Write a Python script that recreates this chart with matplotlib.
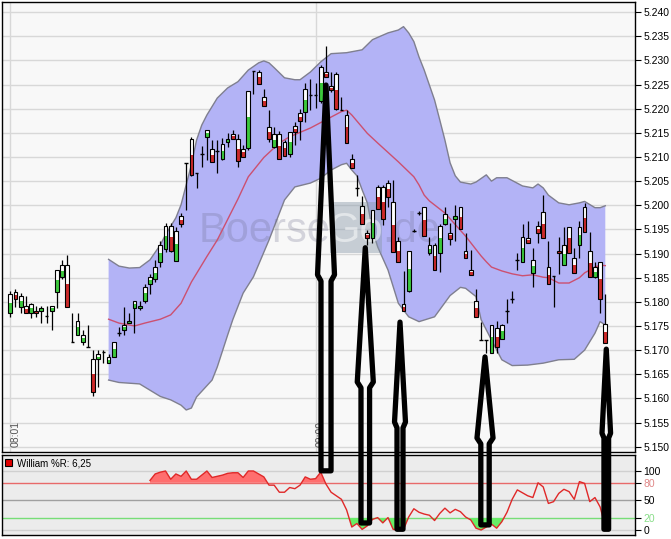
import numpy as np
import matplotlib
matplotlib.use("Agg")
import matplotlib.pyplot as plt
from matplotlib.patches import Rectangle, Polygon

plt.rcParams['font.family'] = ['Liberation Sans', 'DejaVu Sans']

# ---------------- data (1-minute candles starting 08:01) ----------------
opens = [5.1776, 5.1821, 5.1790, 5.1792, 5.1776, 5.1781, 5.1781, 5.1771, 5.1781, 5.1821,
         5.1851, 5.1876, 5.1716, 5.1731, 5.1716, 5.1706, 5.1681, 5.1681, 5.1696, 5.1674,
         5.1685, 5.1735, 5.1742, 5.1756, 5.1787, 5.1787, 5.1802, 5.1836, 5.1847, 5.1882,
         5.1909, 5.1957, 5.1885, 5.1977, 5.2087, 5.2138, 5.2066, 5.2106, 5.2141, 5.2117,
         5.2113, 5.2095, 5.2131, 5.2147, 5.2137, 5.2117, 5.2118, 5.2279, 5.2276, 5.2225,
         5.2162, 5.2120, 5.2147, 5.2131, 5.2106, 5.2165, 5.2191, 5.2193, 5.2229, 5.2229,
         5.2215, 5.2276, 5.2247, 5.2272, 5.2197, 5.2187, 5.2095, 5.2035, 5.1999, 5.1942,
         5.1932, 5.2037, 5.2037, 5.2047, 5.2006, 5.1925, 5.1795, 5.1823, 5.1947, 5.1984,
         5.1996, 5.1901, 5.1917, 5.1901, 5.1961, 5.1943, 5.1972, 5.1997, 5.1906, 5.1866,
         5.1802, 5.1720, 5.1720, 5.1695, 5.1745, 5.1724, 5.1781, 5.1805, 5.1886, 5.1883,
         5.1932, 5.1860, 5.1957, 5.1986, 5.1872, 5.1854, 5.1906, 5.1876, 5.1956, 5.1890,
         5.1917, 5.1996, 5.1906, 5.1851, 5.1882, 5.1755]
highs = [5.1823, 5.1826, 5.1818, 5.1812, 5.1798, 5.1792, 5.1792, 5.1792, 5.1792, 5.1866,
         5.1887, 5.1897, 5.1776, 5.1776, 5.1742, 5.1752, 5.1700, 5.1700, 5.1700, 5.1691,
         5.1716, 5.1747, 5.1790, 5.1776, 5.1802, 5.1802, 5.1836, 5.1857, 5.1887, 5.1925,
         5.1963, 5.1963, 5.1956, 5.1984, 5.2087, 5.2141, 5.2066, 5.2122, 5.2156, 5.2135,
         5.2135, 5.2139, 5.2149, 5.2155, 5.2148, 5.2125, 5.2236, 5.2279, 5.2280, 5.2240,
         5.2197, 5.2162, 5.2153, 5.2135, 5.2151, 5.2173, 5.2199, 5.2253, 5.2261, 5.2253,
         5.2291, 5.2329, 5.2277, 5.2276, 5.2225, 5.2197, 5.2106, 5.2063, 5.2019, 5.1949,
         5.1990, 5.2042, 5.2042, 5.2053, 5.2053, 5.1935, 5.1863, 5.1906, 5.1950, 5.1988,
         5.1996, 5.1935, 5.1922, 5.1962, 5.1997, 5.1964, 5.2001, 5.1997, 5.1942, 5.1907,
         5.1826, 5.1759, 5.1720, 5.1752, 5.1760, 5.1754, 5.1805, 5.1823, 5.1902, 5.1962,
         5.1968, 5.1911, 5.1968, 5.2022, 5.1925, 5.1854, 5.1935, 5.1956, 5.1956, 5.1911,
         5.1968, 5.2004, 5.1945, 5.1883, 5.1882, 5.1816]
lows = [5.1769, 5.1789, 5.1776, 5.1776, 5.1766, 5.1769, 5.1756, 5.1756, 5.1742, 5.1787,
        5.1847, 5.1790, 5.1716, 5.1731, 5.1711, 5.1706, 5.1604, 5.1624, 5.1674, 5.1674,
        5.1685, 5.1730, 5.1731, 5.1756, 5.1735, 5.1783, 5.1797, 5.1816, 5.1842, 5.1873,
        5.1904, 5.1904, 5.1885, 5.1956, 5.1990, 5.2061, 5.2035, 5.2080, 5.2094, 5.2090,
        5.2066, 5.2094, 5.2120, 5.2137, 5.2080, 5.2101, 5.2115, 5.2230, 5.2251, 5.2206,
        5.2132, 5.2118, 5.2095, 5.2102, 5.2101, 5.2125, 5.2135, 5.2173, 5.2197, 5.2201,
        5.2212, 5.2265, 5.2235, 5.2197, 5.2197, 5.2130, 5.2077, 5.2020, 5.1962, 5.1918,
        5.1921, 5.1992, 5.1959, 5.1997, 5.1904, 5.1883, 5.1782, 5.1821, 5.1944, 5.1980,
        5.1936, 5.1897, 5.1866, 5.1862, 5.1959, 5.1918, 5.1925, 5.1950, 5.1890, 5.1855,
        5.1769, 5.1720, 5.1695, 5.1695, 5.1695, 5.1724, 5.1756, 5.1797, 5.1865, 5.1883,
        5.1921, 5.1831, 5.1921, 5.1932, 5.1836, 5.1790, 5.1858, 5.1876, 5.1901, 5.1860,
        5.1890, 5.1945, 5.1851, 5.1849, 5.1776, 5.1714]
closes = [5.1816, 5.1805, 5.1812, 5.1776, 5.1795, 5.1776, 5.1787, 5.1771, 5.1792, 5.1866,
          5.1876, 5.1790, 5.1716, 5.1760, 5.1731, 5.1706, 5.1614, 5.1691, 5.1696, 5.1685,
          5.1716, 5.1735, 5.1752, 5.1760, 5.1802, 5.1792, 5.1831, 5.1851, 5.1872, 5.1918,
          5.1957, 5.1906, 5.1947, 5.1961, 5.2087, 5.2063, 5.2066, 5.2106, 5.2156, 5.2090,
          5.2113, 5.2127, 5.2137, 5.2137, 5.2092, 5.2101, 5.2236, 5.2279, 5.2251, 5.2206,
          5.2137, 5.2147, 5.2095, 5.2102, 5.2151, 5.2151, 5.2175, 5.2240, 5.2229, 5.2229,
          5.2286, 5.2265, 5.2239, 5.2199, 5.2197, 5.2130, 5.2077, 5.2035, 5.1962, 5.1932,
          5.1990, 5.1992, 5.1971, 5.2017, 5.1904, 5.1883, 5.1782, 5.1906, 5.1947, 5.1984,
          5.1936, 5.1917, 5.1866, 5.1957, 5.1982, 5.1931, 5.1978, 5.1950, 5.1890, 5.1855,
          5.1769, 5.1720, 5.1720, 5.1752, 5.1706, 5.1752, 5.1781, 5.1805, 5.1886, 5.1934,
          5.1921, 5.1887, 5.1943, 5.1932, 5.1836, 5.1854, 5.1901, 5.1917, 5.1901, 5.1860,
          5.1956, 5.1945, 5.1851, 5.1872, 5.1806, 5.1714]

# Bollinger band
upper_idx = [19, 21, 23, 25, 27, 29, 30, 32, 33, 35, 36, 37, 38, 40, 42, 44, 46, 48, 49, 50,
             51, 53, 55, 56, 58, 60, 62, 65, 68, 70, 73, 75, 76, 77, 78, 79, 80, 81, 82, 83,
             84, 85, 86, 87, 89, 90, 92, 93, 94, 96, 99, 101, 102, 103, 104, 106, 108, 110,
             111, 113, 114, 115]
upper_val = [5.1888, 5.1874, 5.1870, 5.1871, 5.1887, 5.1918, 5.1939, 5.1974, 5.2001, 5.2084,
             5.2135, 5.2166, 5.2187, 5.2222, 5.2243, 5.2256, 5.2280, 5.2295, 5.2299, 5.2295,
             5.2285, 5.2264, 5.2260, 5.2260, 5.2276, 5.2297, 5.2314, 5.2316, 5.2322, 5.2343,
             5.2357, 5.2363, 5.2370, 5.2357, 5.2339, 5.2307, 5.2280, 5.2249, 5.2218, 5.2177,
             5.2135, 5.2088, 5.2061, 5.2048, 5.2044, 5.2048, 5.2063, 5.2050, 5.2057, 5.2057,
             5.2040, 5.2036, 5.2044, 5.2036, 5.2021, 5.2005, 5.2001, 5.2005, 5.2008, 5.1995,
             5.1995, 5.1999]
lower_idx = [19, 21, 25, 29, 31, 33, 34, 35, 36, 39, 40, 42, 43, 45, 47, 50, 53, 55, 58, 60,
             62, 64, 65, 66, 67, 68, 69, 70, 71, 73, 75, 77, 79, 82, 85, 87, 88, 90, 91, 93,
             95, 97, 100, 103, 106, 109, 111, 113, 114, 115]
lower_val = [5.1638, 5.1633, 5.1630, 5.1604, 5.1597, 5.1586, 5.1576, 5.1580, 5.1603, 5.1638,
             5.1665, 5.1731, 5.1763, 5.1818, 5.1852, 5.1928, 5.2011, 5.2038, 5.2046, 5.2056,
             5.2073, 5.2084, 5.2087, 5.2073, 5.2061, 5.2032, 5.2005, 5.1949, 5.1914, 5.1866,
             5.1797, 5.1769, 5.1759, 5.1769, 5.1813, 5.1830, 5.1828, 5.1811, 5.1763, 5.1721,
             5.1680, 5.1668, 5.1669, 5.1673, 5.1680, 5.1681, 5.1700, 5.1735, 5.1759, 5.1752]
mid_idx = [19, 21, 24, 26, 29, 31, 33, 35, 38, 40, 44, 46, 49, 52, 54, 58, 61, 64, 65, 66,
           69, 71, 75, 78, 79, 80, 81, 84, 88, 91, 92, 93, 95, 97, 99, 101, 103, 104, 106,
           108, 110, 111, 113, 114, 115]
mid_val = [5.1764, 5.1756, 5.1750, 5.1756, 5.1764, 5.1773, 5.1797, 5.1841, 5.1894, 5.1928,
           5.2013, 5.2059, 5.2099, 5.2129, 5.2142, 5.2160, 5.2177, 5.2194, 5.2197, 5.2187,
           5.2149, 5.2129, 5.2090, 5.2059, 5.2042, 5.2021, 5.2009, 5.1984, 5.1936, 5.1895,
           5.1883, 5.1872, 5.1864, 5.1858, 5.1854, 5.1856, 5.1851, 5.1850, 5.1839, 5.1839,
           5.1850, 5.1860, 5.1872, 5.1876, 5.1875]

# Williams %R (candles 27..115)
wr_start = 27
wr_vals = [84, 95, 98, 100, 86, 95, 91, 100, 86, 86,
           93, 100, 89, 91, 93, 96, 97, 97, 89, 100,
           100, 95, 90, 76, 76, 64, 64, 72, 70, 76,
           90, 86, 87, 98, 78, 64, 58, 52, 34, 5,
           11, 1, 7, 18, 21, 12, 21, 1, 0, 1,
           22, 36, 30, 27, 25, 16, 28, 37, 29, 35,
           31, 22, 17, 3, 0, 5, 10, 3, 14, 30,
           52, 68, 63, 58, 55, 80, 73, 45, 48, 62,
           69, 65, 52, 82, 79, 48, 55, 39, 6.25]
wr_levels = [0, 20, 50, 80, 100]
price_ticks = [5.150, 5.155, 5.160, 5.165, 5.170, 5.175, 5.180, 5.185, 5.190, 5.195,
               5.200, 5.205, 5.210, 5.215, 5.220, 5.225, 5.230, 5.235, 5.240]
time_labels = ["08:01", "09:00"]
time_pos = [0, 59]

# hand-drawn arrows: centre, tip, barb, neck, bottom, barb half-width, shaft half-width
arrows = [
    (61.02, 5.2249, 5.1856, 5.1843, 5.1450, 1.64, 0.97),
    (68.61, 5.1912, 5.1634, 5.1622, 5.1342, 1.55, 0.83),
    (75.32, 5.1758, 5.1551, 5.1539, 5.1329, 1.06, 0.58),
    (91.75, 5.1686, 5.1518, 5.1506, 5.1338, 1.55, 0.81),
    (115.19, 5.1702, 5.1528, 5.1518, 5.1329, 0.83, 0.45),
]

# ---------------- figure ----------------
W, H = 671, 539
fig = plt.figure(figsize=(W / 100, H / 100), dpi=100)
fig.patch.set_facecolor('white')
ax = fig.add_axes([2 / W, 1 - 452 / H, 633 / W, 450 / H])
axl = fig.add_axes([2 / W, 1 - 535 / H, 633 / W, 80 / H])

XL = (-1.604, 120.74)
ax.set_xlim(*XL)
ax.set_ylim(5.1489, 5.2421)
ax.set_facecolor('#f8f8f8')
for s in ax.spines.values():
    s.set_color('black'); s.set_linewidth(1)
ax.set_xticks([])
ax.yaxis.tick_right()
ax.set_yticks(price_ticks)
ax.set_yticklabels([f"{v:.3f}" for v in price_ticks])
ax.tick_params(axis='y', direction='out', length=4, width=0.8, pad=2, labelsize=7.5, colors='black')
for v in price_ticks:
    ax.axhline(v, color='#d8d8d8', lw=1, zorder=0.5)
for p, lab in zip(time_pos, time_labels):
    ax.axvline(p, color='#d8d8d8', lw=1, zorder=0.5)
    ax.text(p + 1.05, 5.1500, lab, rotation=90, ha='center', va='bottom',
            fontsize=7.5, color='#555555', zorder=0.6)

# Bollinger band
ux = np.array(upper_idx); uy = np.array(upper_val)
lx = np.array(lower_idx); ly = np.array(lower_val)
ax.fill(np.r_[ux, lx[::-1]], np.r_[uy, ly[::-1]], color='#b3b3f6', lw=0, zorder=1)
ax.plot(ux, uy, color='#7f7f8f', lw=1, zorder=1.5)
ax.plot(lx, ly, color='#7f7f8f', lw=1, zorder=1.5)
ax.plot(mid_idx, mid_val, color='#cc5070', lw=1, zorder=2)

# watermark
ax.text(61.8, 5.1924, "Boerse", ha='right', va='baseline', fontsize=30,
        color='#6a6a8a', alpha=0.26, zorder=1.8)
ax.add_patch(Rectangle((61.8, 5.1901), 10.0, 0.0106, facecolor='#8a9aaa',
                       alpha=0.45, lw=0, zorder=1.8))
ax.text(66.8, 5.1924, "Go", ha='center', va='baseline', fontsize=30,
        color='white', alpha=0.5, zorder=1.85)
ax.text(71.8, 5.1924, ".de", ha='left', va='baseline', fontsize=30,
        color='#6a6a8a', alpha=0.26, zorder=1.8)

# candles
n = len(opens)
idx = np.arange(n)
ax.vlines(idx, lows, highs, color='black', lw=0.9, zorder=3)
bw = 0.72
for i in range(n):
    o, c = opens[i], closes[i]
    if abs(c - o) < 0.00012:
        ax.hlines(c, i - bw / 2, i + bw / 2, color='black', lw=1.0, zorder=3.2)
        continue
    b = min(o, c); h = abs(c - o)
    col = '#3cc83c' if c > o else '#cc2a2a'
    ax.add_patch(Rectangle((i - bw / 2, b), bw, h, facecolor='white', lw=0, zorder=3.1))
    ax.add_patch(Rectangle((i - bw / 2, b), bw, h * 0.55, facecolor=col, lw=0, zorder=3.15))
    ax.add_patch(Rectangle((i - bw / 2, b), bw, h, facecolor='none', edgecolor='black',
                           lw=0.8, zorder=3.2))

# ---------------- Williams %R panel ----------------
axl.set_xlim(*XL)
axl.set_ylim(-8.5, 127.1)
axl.set_facecolor('#ececec')
for s in axl.spines.values():
    s.set_color('black'); s.set_linewidth(1)
axl.set_xticks([])
axl.yaxis.tick_right()
axl.set_yticks(wr_levels)
axl.set_yticklabels([str(v) for v in wr_levels])
axl.tick_params(axis='y', direction='out', length=4, width=0.8, pad=2, labelsize=7.5)
lab_cols = {0: 'black', 20: '#88dd88', 50: 'black', 80: '#e08888', 100: 'black'}
for t, v in zip(axl.get_yticklabels(), wr_levels):
    t.set_color(lab_cols[v])
line_cols = {0: '#d0d0d0', 20: '#77dd77', 50: '#a0a0a0', 80: '#e86a6a', 100: '#d0d0d0'}
for v in wr_levels:
    axl.axhline(v, color=line_cols[v], lw=1, zorder=0.5)

wx = np.arange(wr_start, wr_start + len(wr_vals))
wv = np.array(wr_vals, dtype=float)
axl.fill_between(wx, wv, 80, where=wv >= 80, interpolate=True, color='#ff6e6e', lw=0, zorder=1)
axl.fill_between(wx, wv, 20, where=wv <= 20, interpolate=True, color='#66ee66', lw=0, zorder=1)
axl.plot(wx, wv, color='#e02828', lw=1, zorder=2)

axl.add_patch(Rectangle((0.0047, 0.8625), 0.0115, 0.0875, transform=axl.transAxes,
                        facecolor='#e00000', edgecolor='black', lw=0.8, zorder=5))
axl.text(0.0237, 0.90, f"William %R: {wr_vals[-1]:.2f}".replace('.', ','),
         transform=axl.transAxes, ha='left', va='center', fontsize=7, color='black', zorder=5)

# ---------------- arrows (annotation drawn over both panels) ----------------
for cx, tip, barb, neck, bot, bhw, shw in arrows:
    pts = [(cx - shw, bot), (cx - shw, neck), (cx - bhw, barb), (cx, tip),
           (cx + bhw, barb), (cx + shw, neck), (cx + shw, bot)]
    poly = Polygon(pts, closed=True, fill=False, edgecolor='black', lw=3.8,
                   joinstyle='round', transform=ax.transData, clip_on=False, zorder=10)
    fig.add_artist(poly)

fig.savefig("out.png", dpi=100)
